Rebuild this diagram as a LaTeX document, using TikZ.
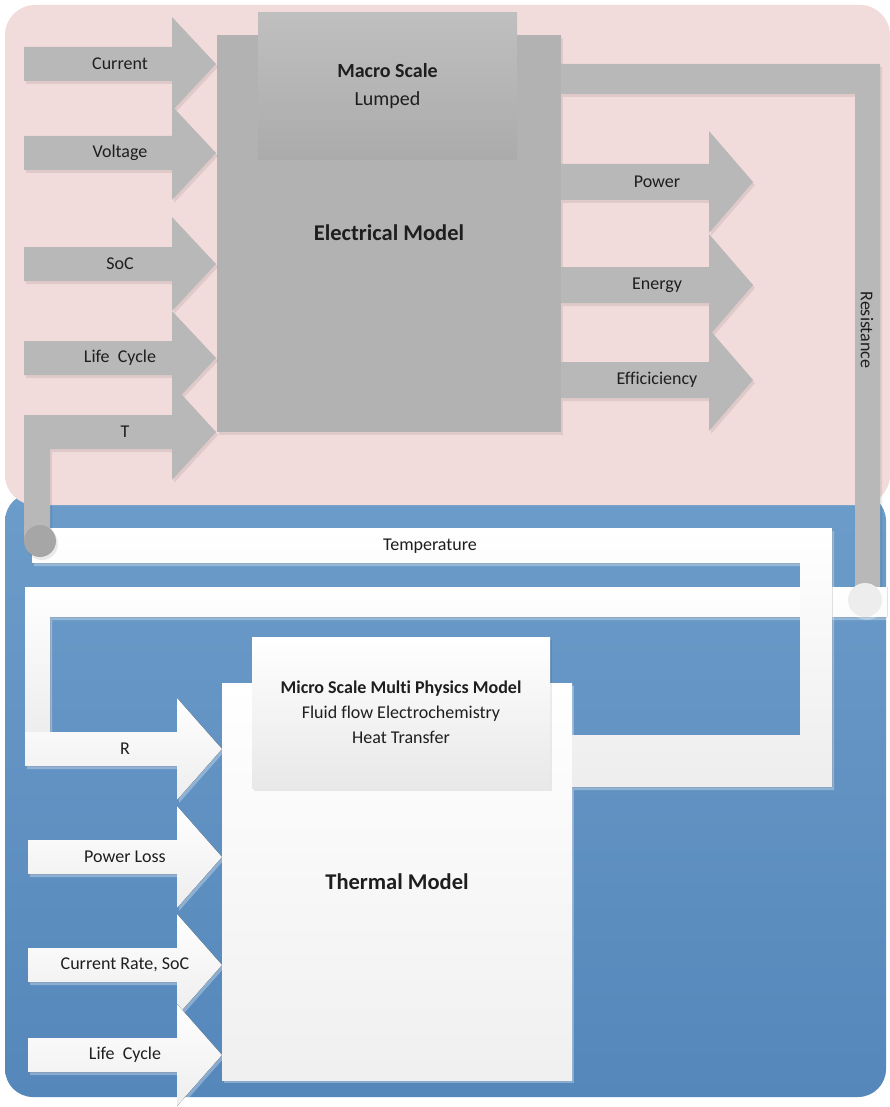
\documentclass[tikz,border=0pt]{standalone}
\usepackage{fontspec}
\setmainfont{Carlito}[Ligatures=NoCommon]
\usetikzlibrary{shadows}
\definecolor{panelpink}{HTML}{F2DCDB}
\definecolor{paneltop}{HTML}{6C9CC9}
\definecolor{panelbot}{HTML}{5587BB}
\definecolor{pipegray}{HTML}{B8B8B8}
\definecolor{boxgray}{HTML}{B2B2B2}
\definecolor{txt}{HTML}{1E1E1E}
\tikzset{
  lbl/.style={font=\fontsize{18}{21}\selectfont, text=txt, inner sep=0pt},
  ttl/.style={font=\bfseries\fontsize{22.5}{26}\selectfont, text=txt},
  modelbox/.style={rectangle, inner sep=0pt, minimum width=#1},
  grayshd/.style={drop shadow={shadow xshift=2pt, shadow yshift=-3pt, fill=black, opacity=.08}},
  whiteshd/.style={drop shadow={shadow xshift=2pt, shadow yshift=-3pt, fill=white, opacity=.3}},
  garrow/.style={fill=pipegray, grayshd},
  warrow/.style={top color=white, bottom color=white!93!black, whiteshd}
}

\begin{document}
\begin{tikzpicture}[x=1pt, y=-1pt]
  \useasboundingbox (0,0) rectangle (890,1107);
  \fill[white] (0,0) rectangle (890,1107);
  % Panels
  \shade[top color=paneltop, bottom color=panelbot, rounded corners=28] (5,493) rectangle (886,1097);
  \fill[panelpink, rounded corners=30] (5,5) rectangle (890,505);

  % Electrical model
  \node[modelbox=344, minimum height=397, fill=boxgray, grayshd] (elec) at (389,233.5) {};
  \node[modelbox=259, minimum height=147, top color=black!25, bottom color=black!33, align=center,
        font=\fontsize{20}{28}\selectfont, text=txt] (macro) at (387.5,86.5) {\textbf{Macro Scale}\\Lumped};
  \node[ttl] (elecname) at (389,233) {Electrical Model};

  % Inputs to electrical model
  \foreach \y/\txt in {64/Current,153/Voltage,264/SoC,358/Life~~Cycle}{
    \fill[garrow] (24,\y-17) -- (172,\y-17) -- (172,\y-47) -- (216,\y) -- (172,\y+47) -- (172,\y+17) -- (24,\y+17) -- cycle;
    \node[lbl] (in-\y) at (120,\y) {\txt};
  }
  % Outputs of electrical model
  \foreach \y/\txt in {182/Power,285/Energy,380/Efficiciency}{
    \fill[garrow] (561,\y-18) -- (709,\y-18) -- (709,\y-51) -- (753,\y) -- (709,\y+51) -- (709,\y+18) -- (561,\y+18) -- cycle;
    \node[lbl] (out-\y) at (657,\y) {\txt};
  }

  % Resistance loop
  \fill[pipegray, grayshd] (561,64) -- (880,64) -- (880,592) -- (855,592) -- (855,94) -- (561,94) -- cycle;
  \node[lbl, rotate=-90] (res) at (867,330) {Resistance};
  \fill[warrow] (887,587) -- (887,617) -- (50,617) -- (50,733) -- (25,733) -- (25,587) -- cycle;
  \fill[black!7, whiteshd] (865,600) circle (17);

  % Thermal model
  \node[modelbox=350, minimum height=397, top color=white, bottom color=black!6, whiteshd] (therm) at (397,881.5) {};
  \node[modelbox=298, minimum height=151, top color=white, bottom color=black!9, grayshd, align=center,
        font=\fontsize{18}{25}\selectfont, text=txt] (micro) at (401,712.5)
        {\textbf{Micro Scale Multi Physics Model}\\Fluid flow Electrochemistry\\Heat Transfer};
  \node[ttl] (thermname) at (397,882) {Thermal Model};

  % Inputs to thermal model
  \foreach \x/\y/\txt in {25/749/R,28/857/Power Loss,28/965/{Current Rate, SoC},28/1055/Life~~Cycle}{
    \fill[warrow] (\x,\y-17) -- (177,\y-17) -- (177,\y-51) -- (222,\y) -- (177,\y+51) -- (177,\y+17) -- (\x,\y+17) -- cycle;
    \node[lbl] (tin-\y) at (125,\y) {\txt};
  }

  % Temperature loop
  \fill[warrow] (32,528) -- (832,528) -- (832,787) -- (572,787) -- (572,735) -- (800,735) -- (800,563) -- (32,563) -- cycle;
  \node[lbl] (temp) at (430,546) {Temperature};
  \fill[pipegray, grayshd] (24,415) -- (172,415) -- (172,384) -- (216,432) -- (172,480) -- (172,449) -- (50,449) -- (50,541) -- (24,541) -- cycle;
  \node[lbl] (in-T) at (125,432) {T};
  \fill[black!35, grayshd] (40,541) circle (16);
\end{tikzpicture}
\end{document}
